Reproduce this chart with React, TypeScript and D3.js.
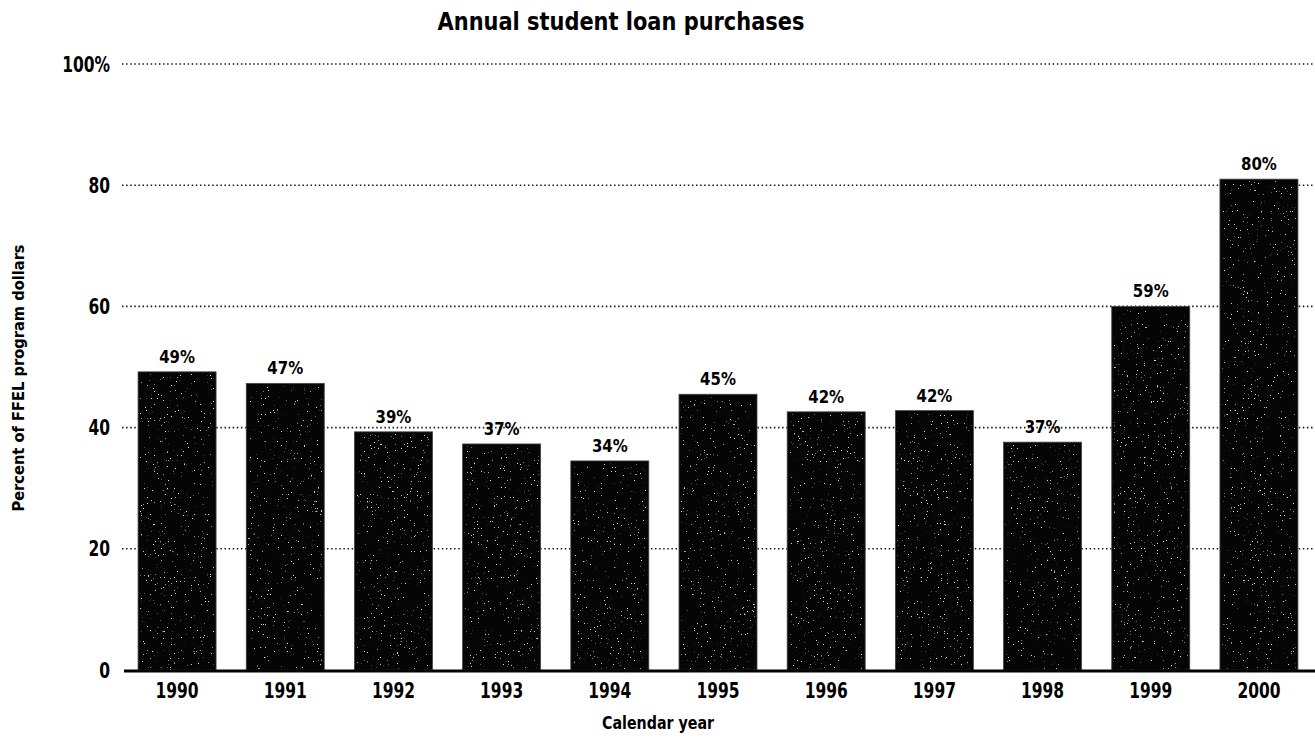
import React, { useEffect, useRef } from "react";
import * as d3 from "d3";

const years = ["1990", "1991", "1992", "1993", "1994", "1995", "1996", "1997", "1998", "1999", "2000"];
const shares = [49.2, 47.3, 39.3, 37.3, 34.5, 45.5, 42.6, 42.8, 37.6, 60, 81];
const shareLabels = ["49%", "47%", "39%", "37%", "34%", "45%", "42%", "42%", "37%", "59%", "80%"];
const yTicks = [0, 20, 40, 60, 80, 100];

const FONT = "'Liberation Sans Narrow', 'DejaVu Sans Condensed', 'Arial Narrow', sans-serif";

const App = () => {
  const ref = useRef(null);
  const width = 1315;
  const height = 739;

  useEffect(() => {
    const svg = d3.select(ref.current);
    svg.selectAll("*").remove();
    svg.attr("width", width).attr("height", height);

    const x = d3.scaleBand().domain(years).range([124, 1312]).paddingInner(0.279).paddingOuter(0.13);
    const y = d3.scaleLinear().domain([0, 100]).range([670, 64]);

    // speckle texture, the original is a scanned print
    const defs = svg.append("defs");
    const f = defs.append("filter").attr("id", "speckle").attr("x", 0).attr("y", 0).attr("width", 1).attr("height", 1);
    f.append("feTurbulence").attr("type", "fractalNoise").attr("baseFrequency", 0.7).attr("numOctaves", 2).attr("seed", 3).attr("result", "noise");
    f.append("feColorMatrix")
      .attr("in", "noise")
      .attr("type", "matrix")
      .attr("values", "0 0 0 0 1  0 0 0 0 1  0 0 0 0 1  16 0 0 0 -11.6")
      .attr("result", "dots");
    f.append("feComposite").attr("in", "dots").attr("in2", "SourceGraphic").attr("operator", "in");

    // condensed text: DejaVu is wider than the original face, squeeze it a bit
    const label = (g, px, py, txt, size, anchor, sx = 0.86) =>
      g.append("text")
        .attr("transform", `translate(${px},${py}) scale(${sx},1)`)
        .attr("text-anchor", anchor)
        .style("font-family", FONT)
        .style("font-weight", "bold")
        .style("font-size", size + "px")
        .text(txt);

    label(svg, 621, 30, "Annual student loan purchases", 24, "middle", 0.97);

    // gridlines (dotted)
    svg.append("g")
      .selectAll("line")
      .data(yTicks.filter((d) => d > 0))
      .enter()
      .append("line")
      .attr("x1", 122)
      .attr("x2", width)
      .attr("y1", (d) => y(d))
      .attr("y2", (d) => y(d))
      .attr("stroke", "#1a1a1a")
      .attr("stroke-width", 1.6)
      .attr("stroke-dasharray", "1.5,2.6");

    const yLab = svg.append("g");
    yTicks.forEach((d) => label(yLab, 110, y(d) + 7.5, d === 100 ? "100%" : String(d), 20.5, "end", 0.84));

    // bars
    const bars = svg.append("g");
    bars.selectAll("rect.bar")
      .data(shares)
      .enter()
      .append("rect")
      .attr("class", "bar")
      .attr("x", (d, i) => x(years[i]))
      .attr("y", (d) => y(d))
      .attr("width", x.bandwidth())
      .attr("height", (d) => y(0) - y(d))
      .attr("fill", "#050505")
      .attr("stroke", "#444")
      .attr("stroke-width", 0.8);

    bars.selectAll("rect.tex")
      .data(shares)
      .enter()
      .append("rect")
      .attr("class", "tex")
      .attr("x", (d, i) => x(years[i]) + 2)
      .attr("y", (d) => y(d) + 2)
      .attr("width", x.bandwidth() - 4)
      .attr("height", (d) => y(0) - y(d) - 2)
      .attr("fill", "#fff")
      .attr("opacity", 0.85)
      .attr("filter", "url(#speckle)");

    const vLab = svg.append("g");
    shares.forEach((d, i) => label(vLab, x(years[i]) + x.bandwidth() / 2, y(d) - 9, shareLabels[i], 18.5, "middle", 0.9));

    // baseline
    svg.append("line")
      .attr("x1", 124)
      .attr("x2", width)
      .attr("y1", y(0) + 1)
      .attr("y2", y(0) + 1)
      .attr("stroke", "#000")
      .attr("stroke-width", 3);

    const xLab = svg.append("g");
    years.forEach((d) => label(xLab, x(d) + x.bandwidth() / 2, 698, d, 20.5, "middle", 0.84));

    label(svg, 658, 729, "Calendar year", 18, "middle", 0.88);

    svg.append("text")
      .attr("transform", "translate(24,378) rotate(-90)")
      .attr("text-anchor", "middle")
      .style("font-family", FONT)
      .style("font-weight", "bold")
      .style("font-size", "16.3px")
      .text("Percent of FFEL program dollars");
  }, []);

  return (
    <div style={{ position: "absolute", left: 0, top: 0 }}>
      <svg ref={ref}></svg>
    </div>
  );
};

export default App;
